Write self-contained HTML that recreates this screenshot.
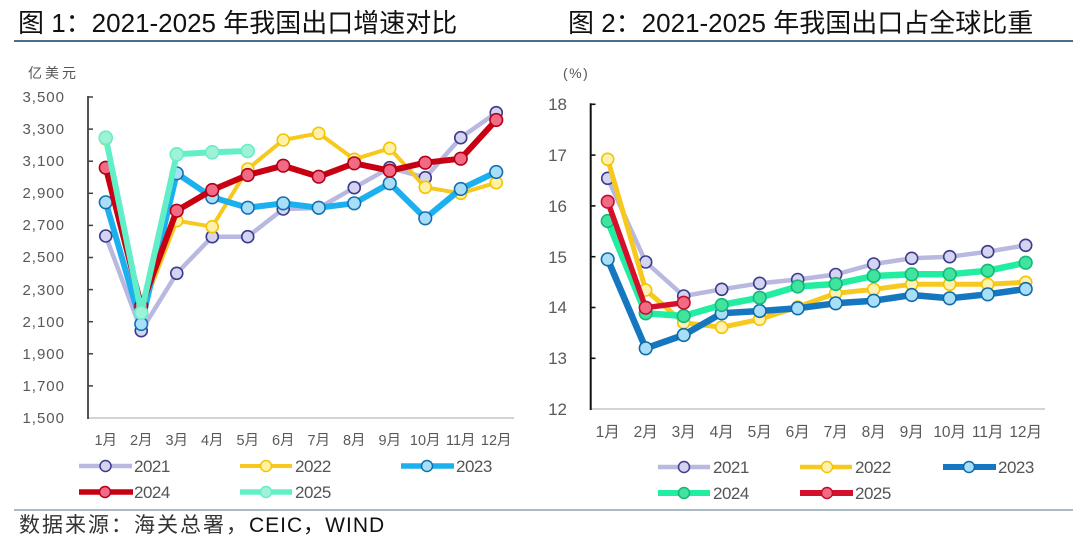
<!DOCTYPE html>
<html><head><meta charset="utf-8"><style>
html,body{margin:0;padding:0;background:#fff;}
svg{display:block;font-family:"Liberation Sans","Noto Sans CJK SC",sans-serif;}
</style></head><body>
<svg width="1080" height="540" viewBox="0 0 1080 540" xmlns="http://www.w3.org/2000/svg">
<rect width="1080" height="540" fill="#fff"/>
<!-- titles -->
<text x="18" y="32" font-size="26" fill="#111">图 1：2021-2025 年我国出口增速对比</text>
<text x="568" y="32" font-size="26" fill="#111">图 2：2021-2025 年我国出口占全球比重</text>
<line x1="14" y1="41" x2="1073" y2="41" stroke="#4a7090" stroke-width="2"/>

<!-- ===== LEFT CHART ===== -->
<text x="28" y="78" font-size="14" fill="#555" letter-spacing="3">亿美元</text>
<g font-size="15" fill="#595959" text-anchor="end" letter-spacing="1">
<text x="65" y="102">3,500</text>
<text x="65" y="134">3,300</text>
<text x="65" y="166">3,100</text>
<text x="65" y="198">2,900</text>
<text x="65" y="230">2,700</text>
<text x="65" y="262">2,500</text>
<text x="65" y="295">2,300</text>
<text x="65" y="327">2,100</text>
<text x="65" y="359">1,900</text>
<text x="65" y="391">1,700</text>
<text x="65" y="423">1,500</text>
</g>
<line x1="88" y1="418" x2="514" y2="418" stroke="#d4d4d4" stroke-width="2"/>
<line x1="88" y1="96" x2="88" y2="419" stroke="#404040" stroke-width="1.8"/>
<g stroke="#404040" stroke-width="1.5">
<line x1="88" y1="97" x2="93" y2="97"/><line x1="88" y1="129.1" x2="93" y2="129.1"/>
<line x1="88" y1="161.2" x2="93" y2="161.2"/><line x1="88" y1="193.3" x2="93" y2="193.3"/>
<line x1="88" y1="225.4" x2="93" y2="225.4"/><line x1="88" y1="257.5" x2="93" y2="257.5"/>
<line x1="88" y1="289.6" x2="93" y2="289.6"/><line x1="88" y1="321.7" x2="93" y2="321.7"/>
<line x1="88" y1="353.8" x2="93" y2="353.8"/><line x1="88" y1="385.9" x2="93" y2="385.9"/>
</g>
<g font-size="14.5" fill="#595959" text-anchor="middle">
<text x="105.75" y="445">1月</text><text x="141.25" y="445">2月</text><text x="176.75" y="445">3月</text>
<text x="212.25" y="445">4月</text><text x="247.75" y="445">5月</text><text x="283.25" y="445">6月</text>
<text x="318.75" y="445">7月</text><text x="354.25" y="445">8月</text><text x="389.75" y="445">9月</text>
<text x="425.25" y="445">10月</text><text x="460.75" y="445">11月</text><text x="496.25" y="445">12月</text>
</g>

<!-- 2021 left -->
<polyline fill="none" stroke="#b8b8e0" stroke-width="4.5" stroke-linejoin="round" points="105.75,236 141.25,330.7 176.75,273.3 212.25,236.7 247.75,236.7 283.25,209 318.75,208 354.25,187.7 389.75,167.7 425.25,177.7 460.75,137.7 496.25,112.7"/>
<g fill="#d4d4f0" stroke="#3c3c8c" stroke-width="1.6">
<circle cx="105.75" cy="236" r="6"/><circle cx="141.25" cy="330.7" r="6"/><circle cx="176.75" cy="273.3" r="6"/>
<circle cx="212.25" cy="236.7" r="6"/><circle cx="247.75" cy="236.7" r="6"/><circle cx="283.25" cy="209" r="6"/>
<circle cx="318.75" cy="208" r="6"/><circle cx="354.25" cy="187.7" r="6"/><circle cx="389.75" cy="167.7" r="6"/>
<circle cx="425.25" cy="177.7" r="6"/><circle cx="460.75" cy="137.7" r="6"/><circle cx="496.25" cy="112.7" r="6"/>
</g>
<!-- 2022 left -->
<polyline fill="none" stroke="#f7c81e" stroke-width="4" stroke-linejoin="round" points="105.75,139 141.25,312 176.75,220.7 212.25,226.7 247.75,169 283.25,140 318.75,133.3 354.25,159.3 389.75,148.3 425.25,187.3 460.75,193.3 496.25,182.7"/>
<g fill="#fff2a8" stroke="#f5c400" stroke-width="1.6">
<circle cx="105.75" cy="139" r="6"/><circle cx="141.25" cy="312" r="6"/><circle cx="176.75" cy="220.7" r="6"/>
<circle cx="212.25" cy="226.7" r="6"/><circle cx="247.75" cy="169" r="6"/><circle cx="283.25" cy="140" r="6"/>
<circle cx="318.75" cy="133.3" r="6"/><circle cx="354.25" cy="159.3" r="6"/><circle cx="389.75" cy="148.3" r="6"/>
<circle cx="425.25" cy="187.3" r="6"/><circle cx="460.75" cy="193.3" r="6"/><circle cx="496.25" cy="182.7" r="6"/>
</g>
<!-- 2023 left -->
<polyline fill="none" stroke="#1cb0ee" stroke-width="6" stroke-linejoin="round" points="105.75,202.3 141.25,324 176.75,173.3 212.25,197.3 247.75,207.7 283.25,203.3 318.75,207.7 354.25,203.3 389.75,183.3 425.25,218.3 460.75,189 496.25,172"/>
<g fill="#a8def8" stroke="#1270b0" stroke-width="1.6">
<circle cx="105.75" cy="202.3" r="6.3"/><circle cx="141.25" cy="324" r="6.3"/><circle cx="176.75" cy="173.3" r="6.3"/>
<circle cx="212.25" cy="197.3" r="6.3"/><circle cx="247.75" cy="207.7" r="6.3"/><circle cx="283.25" cy="203.3" r="6.3"/>
<circle cx="318.75" cy="207.7" r="6.3"/><circle cx="354.25" cy="203.3" r="6.3"/><circle cx="389.75" cy="183.3" r="6.3"/>
<circle cx="425.25" cy="218.3" r="6.3"/><circle cx="460.75" cy="189" r="6.3"/><circle cx="496.25" cy="172" r="6.3"/>
</g>
<!-- 2024 left -->
<polyline fill="none" stroke="#c80012" stroke-width="6" stroke-linejoin="round" points="105.75,167.7 141.25,306 176.75,210.7 212.25,190 247.75,175 283.25,165.7 318.75,176.7 354.25,163.3 389.75,170.7 425.25,162.7 460.75,158.7 496.25,120"/>
<g fill="#f26a84" stroke="#b0001a" stroke-width="1.6">
<circle cx="105.75" cy="167.7" r="6.3"/><circle cx="141.25" cy="306" r="6.3"/><circle cx="176.75" cy="210.7" r="6.3"/>
<circle cx="212.25" cy="190" r="6.3"/><circle cx="247.75" cy="175" r="6.3"/><circle cx="283.25" cy="165.7" r="6.3"/>
<circle cx="318.75" cy="176.7" r="6.3"/><circle cx="354.25" cy="163.3" r="6.3"/><circle cx="389.75" cy="170.7" r="6.3"/>
<circle cx="425.25" cy="162.7" r="6.3"/><circle cx="460.75" cy="158.7" r="6.3"/><circle cx="496.25" cy="120" r="6.3"/>
</g>
<!-- 2025 left -->
<polyline fill="none" stroke="#62efc8" stroke-width="6" stroke-linejoin="round" points="105.75,137.7 141.25,312.7 176.75,154.3 212.25,152.3 247.75,151"/>
<g fill="#9ef2d6" stroke="#6aeccb" stroke-width="1.6">
<circle cx="105.75" cy="137.7" r="6.5"/><circle cx="141.25" cy="312.7" r="6.5"/><circle cx="176.75" cy="154.3" r="6.5"/>
<circle cx="212.25" cy="152.3" r="6.5"/><circle cx="247.75" cy="151" r="6.5"/>
</g>

<!-- left legend -->
<g font-size="17" fill="#555" letter-spacing="-0.5">
<line x1="79" y1="466" x2="132" y2="466" stroke="#b8b8e0" stroke-width="4.5"/>
<circle cx="105.5" cy="466" r="5.5" fill="#d4d4f0" stroke="#3c3c8c" stroke-width="1.5"/>
<text x="134" y="472">2021</text>
<line x1="240" y1="466" x2="292" y2="466" stroke="#f7c81e" stroke-width="4"/>
<circle cx="266" cy="466" r="5.5" fill="#fff2a8" stroke="#f5c400" stroke-width="1.5"/>
<text x="295" y="472">2022</text>
<line x1="401" y1="466" x2="454" y2="466" stroke="#1cb0ee" stroke-width="5.5"/>
<circle cx="427" cy="466" r="5.5" fill="#a8def8" stroke="#1270b0" stroke-width="1.5"/>
<text x="456" y="472">2023</text>
<line x1="79" y1="492" x2="133" y2="492" stroke="#c80012" stroke-width="5.5"/>
<circle cx="105" cy="492" r="5.5" fill="#f26a84" stroke="#b0001a" stroke-width="1.5"/>
<text x="134" y="498">2024</text>
<line x1="240" y1="492" x2="292" y2="492" stroke="#62efc8" stroke-width="5.5"/>
<circle cx="266" cy="492" r="5.5" fill="#9ef2d6" stroke="#6aeccb" stroke-width="1.5"/>
<text x="295" y="498">2025</text>
</g>

<!-- ===== RIGHT CHART ===== -->
<text x="563" y="78" font-size="14" fill="#555" letter-spacing="1.5">(%)</text>
<g font-size="17" fill="#595959" text-anchor="end">
<text x="567" y="110">18</text>
<text x="567" y="161">17</text>
<text x="567" y="212">16</text>
<text x="567" y="263">15</text>
<text x="567" y="313">14</text>
<text x="567" y="364">13</text>
<text x="567" y="415">12</text>
</g>
<line x1="590.7" y1="409" x2="1045" y2="409" stroke="#d4d4d4" stroke-width="2"/>
<line x1="590.7" y1="103.3" x2="590.7" y2="410" stroke="#111" stroke-width="2"/>
<g stroke="#111" stroke-width="1.6">
<line x1="590.7" y1="104.3" x2="595.5" y2="104.3"/><line x1="590.7" y1="155.1" x2="595.5" y2="155.1"/>
<line x1="590.7" y1="205.9" x2="595.5" y2="205.9"/><line x1="590.7" y1="256.7" x2="595.5" y2="256.7"/>
<line x1="590.7" y1="307.5" x2="595.5" y2="307.5"/><line x1="590.7" y1="358.3" x2="595.5" y2="358.3"/>
</g>
<g font-size="15.5" fill="#595959" text-anchor="middle">
<text x="607.7" y="437">1月</text><text x="645.7" y="437">2月</text><text x="683.7" y="437">3月</text>
<text x="721.7" y="437">4月</text><text x="759.7" y="437">5月</text><text x="797.7" y="437">6月</text>
<text x="835.7" y="437">7月</text><text x="873.7" y="437">8月</text><text x="911.7" y="437">9月</text>
<text x="949.7" y="437">10月</text><text x="987.7" y="437">11月</text><text x="1025.7" y="437">12月</text>
</g>

<!-- 2021 right -->
<polyline fill="none" stroke="#b8b8e0" stroke-width="4.5" stroke-linejoin="round" points="607.7,178.3 645.7,262 683.7,296 721.7,289.3 759.7,283.3 797.7,279.5 835.7,274.5 873.7,264 911.7,258.3 949.7,256.7 987.7,251.7 1025.7,245.3"/>
<g fill="#d4d4f0" stroke="#3c3c8c" stroke-width="1.6">
<circle cx="607.7" cy="178.3" r="6"/><circle cx="645.7" cy="262" r="6"/><circle cx="683.7" cy="296" r="6"/>
<circle cx="721.7" cy="289.3" r="6"/><circle cx="759.7" cy="283.3" r="6"/><circle cx="797.7" cy="279.5" r="6"/>
<circle cx="835.7" cy="274.5" r="6"/><circle cx="873.7" cy="264" r="6"/><circle cx="911.7" cy="258.3" r="6"/>
<circle cx="949.7" cy="256.7" r="6"/><circle cx="987.7" cy="251.7" r="6"/><circle cx="1025.7" cy="245.3" r="6"/>
</g>
<!-- 2022 right -->
<polyline fill="none" stroke="#f7c81e" stroke-width="5" stroke-linejoin="round" points="607.7,159.3 645.7,290 683.7,322.7 721.7,327.3 759.7,319.3 797.7,307 835.7,293.3 873.7,289.3 911.7,284.3 949.7,284.3 987.7,284.3 1025.7,282.3"/>
<g fill="#fff2b0" stroke="#f5c400" stroke-width="1.6">
<circle cx="607.7" cy="159.3" r="6"/><circle cx="645.7" cy="290" r="6"/><circle cx="683.7" cy="322.7" r="6"/>
<circle cx="721.7" cy="327.3" r="6"/><circle cx="759.7" cy="319.3" r="6"/><circle cx="797.7" cy="307" r="6"/>
<circle cx="835.7" cy="293.3" r="6"/><circle cx="873.7" cy="289.3" r="6"/><circle cx="911.7" cy="284.3" r="6"/>
<circle cx="949.7" cy="284.3" r="6"/><circle cx="987.7" cy="284.3" r="6"/><circle cx="1025.7" cy="282.3" r="6"/>
</g>
<!-- 2023 right -->
<polyline fill="none" stroke="#1577c0" stroke-width="6.5" stroke-linejoin="round" points="607.7,259.3 645.7,348.3 683.7,335 721.7,313.3 759.7,311 797.7,308.3 835.7,303.3 873.7,300.7 911.7,295 949.7,298.3 987.7,294.3 1025.7,289"/>
<g fill="#a8def8" stroke="#0e6aa8" stroke-width="1.6">
<circle cx="607.7" cy="259.3" r="6.3"/><circle cx="645.7" cy="348.3" r="6.3"/><circle cx="683.7" cy="335" r="6.3"/>
<circle cx="721.7" cy="313.3" r="6.3"/><circle cx="759.7" cy="311" r="6.3"/><circle cx="797.7" cy="308.3" r="6.3"/>
<circle cx="835.7" cy="303.3" r="6.3"/><circle cx="873.7" cy="300.7" r="6.3"/><circle cx="911.7" cy="295" r="6.3"/>
<circle cx="949.7" cy="298.3" r="6.3"/><circle cx="987.7" cy="294.3" r="6.3"/><circle cx="1025.7" cy="289" r="6.3"/>
</g>
<!-- 2024 right -->
<polyline fill="none" stroke="#22eea2" stroke-width="6.5" stroke-linejoin="round" points="607.7,221 645.7,313.3 683.7,316 721.7,305 759.7,297.7 797.7,286.5 835.7,284 873.7,276 911.7,274.3 949.7,274.3 987.7,270.7 1025.7,262.7"/>
<g fill="#40e49e" stroke="#14b878" stroke-width="1.6">
<circle cx="607.7" cy="221" r="6.3"/><circle cx="645.7" cy="313.3" r="6.3"/><circle cx="683.7" cy="316" r="6.3"/>
<circle cx="721.7" cy="305" r="6.3"/><circle cx="759.7" cy="297.7" r="6.3"/><circle cx="797.7" cy="286.5" r="6.3"/>
<circle cx="835.7" cy="284" r="6.3"/><circle cx="873.7" cy="276" r="6.3"/><circle cx="911.7" cy="274.3" r="6.3"/>
<circle cx="949.7" cy="274.3" r="6.3"/><circle cx="987.7" cy="270.7" r="6.3"/><circle cx="1025.7" cy="262.7" r="6.3"/>
</g>
<!-- 2025 right -->
<polyline fill="none" stroke="#d4102c" stroke-width="5.5" stroke-linejoin="round" points="607.7,201.7 645.7,307.7 683.7,302.7"/>
<g fill="#f26a84" stroke="#c0102a" stroke-width="1.6">
<circle cx="607.7" cy="201.7" r="6.3"/><circle cx="645.7" cy="307.7" r="6.3"/><circle cx="683.7" cy="302.7" r="6.3"/>
</g>

<!-- right legend -->
<g font-size="17" fill="#555" letter-spacing="-0.5">
<line x1="658" y1="467" x2="710" y2="467" stroke="#b8b8e0" stroke-width="4.5"/>
<circle cx="684" cy="467" r="5.5" fill="#d4d4f0" stroke="#3c3c8c" stroke-width="1.5"/>
<text x="713" y="473">2021</text>
<line x1="800" y1="467" x2="852" y2="467" stroke="#f7c81e" stroke-width="4.5"/>
<circle cx="827" cy="467" r="5.5" fill="#fff2b0" stroke="#f5c400" stroke-width="1.5"/>
<text x="855" y="473">2022</text>
<line x1="943" y1="467" x2="996" y2="467" stroke="#1577c0" stroke-width="6"/>
<circle cx="969" cy="467" r="5.5" fill="#a8def8" stroke="#0e6aa8" stroke-width="1.5"/>
<text x="998" y="473">2023</text>
<line x1="658" y1="493" x2="710" y2="493" stroke="#22eea2" stroke-width="6"/>
<circle cx="684" cy="493" r="5.5" fill="#40e49e" stroke="#14b878" stroke-width="1.5"/>
<text x="713" y="499">2024</text>
<line x1="800" y1="493" x2="853" y2="493" stroke="#d4102c" stroke-width="6"/>
<circle cx="827" cy="493" r="5.5" fill="#f26a84" stroke="#c0102a" stroke-width="1.5"/>
<text x="855" y="499">2025</text>
</g>

<!-- bottom separator & source -->
<line x1="14" y1="510" x2="1073" y2="510" stroke="#8ea3b3" stroke-width="1.5"/>
<text x="19" y="532" font-size="21" fill="#333"><tspan letter-spacing="2">数据来源：海关总署，</tspan><tspan fill="#111" letter-spacing="1">CEIC，WIND</tspan></text>
</svg>
</body></html>
